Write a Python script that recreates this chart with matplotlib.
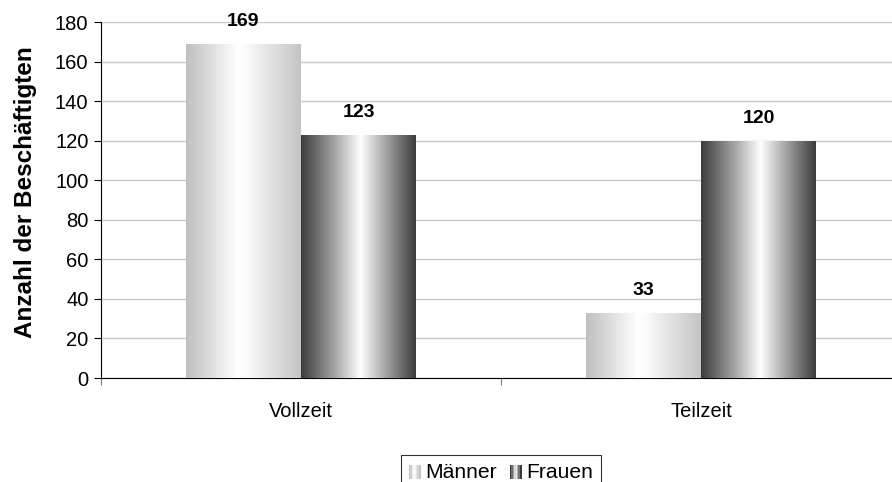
import matplotlib.pyplot as plt
import numpy as np
from matplotlib.colors import LinearSegmentedColormap
from matplotlib.patches import Rectangle
from matplotlib.legend_handler import HandlerBase

plt.rcParams['font.family'] = ['Liberation Sans', 'DejaVu Sans']

categories = ['Vollzeit', 'Teilzeit']
maenner = [169, 33]
frauen = [123, 120]
series_names = ['Männer', 'Frauen']

# Verlauf: hell/grau für Männer, dunkel für Frauen
cmap_m = LinearSegmentedColormap.from_list('m', [(0, '#c0c0c0'), (0.45, '#ffffff'), (0.55, '#f8f8f8'), (1, '#c4c4c4')])
cmap_f = LinearSegmentedColormap.from_list('f', [(0, '#3c3c3c'), (0.3, '#a8a8a8'), (0.52, '#ffffff'), (0.75, '#a0a0a0'), (1, '#3c3c3c')])
grad = np.linspace(0, 1, 256).reshape(1, -1)

fig = plt.figure(figsize=(8.92, 4.82), dpi=100)
ax = fig.add_axes([101/892, 1 - 378/482, 800/892, 356/482])

x = np.arange(len(categories))
w = 0.2875

def draw_bars(xs, vals, cmap):
    bars = ax.bar(xs, vals, width=w, color='none', edgecolor='none', zorder=3)
    for b in bars:
        x0, y0 = b.get_x(), b.get_y()
        im = ax.imshow(grad, cmap=cmap, aspect='auto', extent=(x0, x0 + b.get_width(), y0, y0 + b.get_height()),
                       zorder=3, interpolation='bilinear')
        im.set_clip_path(b)
    for b, v in zip(bars, vals):
        ax.text(b.get_x() + b.get_width()/2, v + 7, str(v), ha='center', va='bottom',
                fontsize=14, fontweight='bold')
    return bars

draw_bars(x - w/2, maenner, cmap_m)
draw_bars(x + w/2, frauen, cmap_f)
ax.set_xlim(-0.5, 1.5)
ax.set_ylim(0, 180)

ax.set_yticks(np.arange(0, 181, 20))
ax.yaxis.grid(True, color='#c8c8c8', linewidth=1)
ax.set_axisbelow(True)
ax.set_xticks([-0.5, 0.5, 1.5])
ax.set_xticklabels([])
ax.set_xticks(x, minor=True)
ax.set_xticklabels(categories, minor=True)
ax.tick_params(axis='x', which='minor', length=0, pad=17, labelsize=14.5)
ax.tick_params(axis='x', which='major', length=5, color='#808080', direction='out')
ax.tick_params(axis='y', length=5, labelsize=14.5, pad=4)
for s in ['top', 'right']:
    ax.spines[s].set_visible(False)
ax.spines['left'].set_color('black')
ax.spines['bottom'].set_color('black')
ax.set_ylabel('Anzahl der Beschäftigten', fontsize=17.5, fontweight='bold')
ax.yaxis.set_label_coords(-64/800, 186/356)

class GradHandler(HandlerBase):
    def __init__(self, cmap):
        super().__init__()
        self.cmap = cmap
    def create_artists(self, legend, orig, xd, yd, width, height, fontsize, trans):
        arts = []
        n = 8
        for i in range(n):
            c = self.cmap(i / (n - 1))
            r = Rectangle((xd + i * width / n, yd), width / n + 0.3, height, facecolor=c, edgecolor='none', transform=trans)
            arts.append(r)
        return arts

h1 = Rectangle((0, 0), 1, 1)
h2 = Rectangle((0, 0), 1, 1)
leg = fig.legend([h1, h2], series_names, loc='upper center', bbox_to_anchor=(501/892, 1 - 455/482),
                 ncol=2, fontsize=15.2, frameon=True, fancybox=False, edgecolor='black',
                 handler_map={h1: GradHandler(cmap_m), h2: GradHandler(cmap_f)},
                 handlelength=0.53, handleheight=0.63, handletextpad=0.24, columnspacing=0.62,
                 borderpad=0.38, borderaxespad=0)
leg.get_frame().set_linewidth(0.8)

fig.savefig('out.png', dpi=100)
